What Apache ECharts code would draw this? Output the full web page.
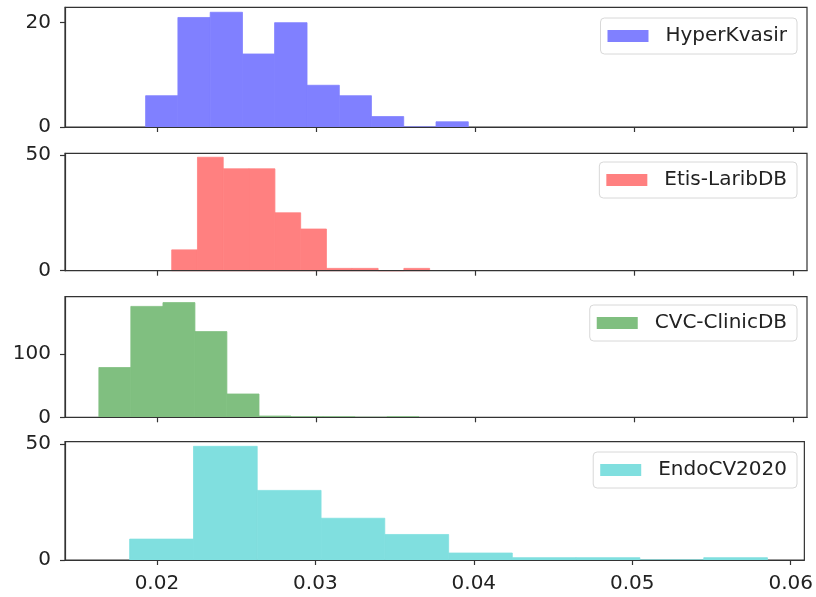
<!DOCTYPE html>
<html>
<head>
<meta charset="utf-8">
<script src="https://cdn.jsdelivr.net/npm/echarts@6/dist/echarts.min.js"></script>
<style>
html,body{margin:0;padding:0;background:#fff;}
#chart{width:816px;height:597px;}
</style>
</head>
<body>
<div id="chart"></div>
<script>
// Dataset names
const names = ['HyperKvasir', 'Etis-LaribDB', 'CVC-ClinicDB', 'EndoCV2020'];

// Histogram bin edges
const edgesHyperKvasir = [0.01927, 0.02130, 0.02333, 0.02536, 0.02738, 0.02942, 0.03145, 0.03347, 0.03550, 0.03753, 0.03956];
const edgesEtis = [0.02091, 0.02253, 0.02415, 0.02577, 0.02740, 0.02902, 0.03064, 0.03226, 0.03389, 0.03551, 0.03713];
const edgesCVC = [0.01633, 0.01834, 0.02036, 0.02237, 0.02438, 0.02640, 0.02841, 0.03042, 0.03243, 0.03445, 0.03646];
const edgesEndo = [0.01828, 0.02231, 0.02633, 0.03036, 0.03438, 0.03841, 0.04243, 0.04646, 0.05048, 0.05451, 0.05853];

// Histogram counts
const countsHyperKvasir = [6, 21, 22, 14, 20, 8, 6, 2, 0, 1];
const countsEtis = [9, 49, 44, 44, 25, 18, 1, 1, 0, 1];
const countsCVC = [79, 176, 182, 136, 37, 2, 1, 1, 0, 1];
const countsEndo = [9, 49, 30, 18, 11, 3, 1, 1, 0, 1];

// Tick labels
const xTicks = [0.02, 0.03, 0.04, 0.05, 0.06];
const yTicksHyperKvasir = [0, 20];
const yTicksEtis = [0, 50];
const yTicksCVC = [0, 100];
const yTicksEndo = [0, 50];

const allEdges = [edgesHyperKvasir, edgesEtis, edgesCVC, edgesEndo];
const allCounts = [countsHyperKvasir, countsEtis, countsCVC, countsEndo];
const allYTicks = [yTicksHyperKvasir, yTicksEtis, yTicksCVC, yTicksEndo];

const colors = ['#8080ff', '#ff8080', '#80bf80', '#80dfdf'];
const yMax = [22.95, 50.7, 191.4, 51];
const gridTops = [7.3, 153.3, 296.7, 441.7];
const gridHeights = [119.7, 117.4, 120.6, 118.3];
const legendTops = [18, 162, 305, 452];
const xMin = 0.0142, xMax = 0.06086;
const axisColor = '#333';
const font = 'DejaVu Sans';

const grids = [], xAxes = [], yAxes = [], series = [], legends = [];
for (let i = 0; i < 4; i++) {
  grids.push({left: 65, right: 9, top: gridTops[i], height: gridHeights[i],
    show: true, borderColor: axisColor, borderWidth: 1.2, backgroundColor: '#fff'});
  xAxes.push({
    type: 'value', gridIndex: i, min: xMin, max: xMax, z: 5,
    axisLine: {show: true, onZero: false, lineStyle: {color: axisColor, width: 1.2}},
    axisTick: {show: true, length: 5, customValues: xTicks, lineStyle: {color: axisColor, width: 1.2}},
    axisLabel: {show: i === 3, customValues: xTicks, margin: 14, fontSize: 20, fontFamily: font, color: '#222',
      formatter: v => v.toFixed(2)},
    splitLine: {show: false}
  });
  yAxes.push({
    type: 'value', gridIndex: i, min: 0, max: yMax[i], z: 5,
    axisLine: {show: true, lineStyle: {color: axisColor, width: 1.2}},
    axisTick: {show: true, length: 5, customValues: allYTicks[i], lineStyle: {color: axisColor, width: 1.2}},
    axisLabel: {show: true, customValues: allYTicks[i], margin: 14, fontSize: 20, fontFamily: font, color: '#222'},
    splitLine: {show: false}
  });
  const edges = allEdges[i];
  const data = allCounts[i].map((c, k) => [edges[k], edges[k + 1], c]);
  series.push({
    name: names[i], type: 'custom', xAxisIndex: i, yAxisIndex: i,
    itemStyle: {color: colors[i]},
    encode: {x: [0, 1], y: 2},
    data: data,
    renderItem: function (params, api) {
      const p0 = api.coord([api.value(0), api.value(2)]);
      const p1 = api.coord([api.value(1), 0]);
      return {
        type: 'rect',
        shape: {x: p0[0], y: p0[1], width: p1[0] - p0[0], height: p1[1] - p0[1]},
        style: {fill: colors[i], stroke: colors[i], lineWidth: 0.8}
      };
    }
  });
  legends.push({
    data: [names[i]], right: 19, top: legendTops[i], orient: 'vertical',
    icon: 'rect', itemWidth: 41, itemHeight: 12,
    padding: [8, 10, 8, 7],
    backgroundColor: 'rgba(255,255,255,0.8)', borderColor: '#d8d8d8', borderWidth: 1, borderRadius: 4,
    textStyle: {fontSize: 20, fontFamily: font, color: '#222', padding: [0, 0, 0, 12]},
    selectedMode: false
  });
}

const chart = echarts.init(document.getElementById('chart'), null, {renderer: 'canvas'});
chart.setOption({
  animation: false,
  backgroundColor: '#fff',
  grid: grids, xAxis: xAxes, yAxis: yAxes, series: series, legend: legends
});
</script>
</body>
</html>
